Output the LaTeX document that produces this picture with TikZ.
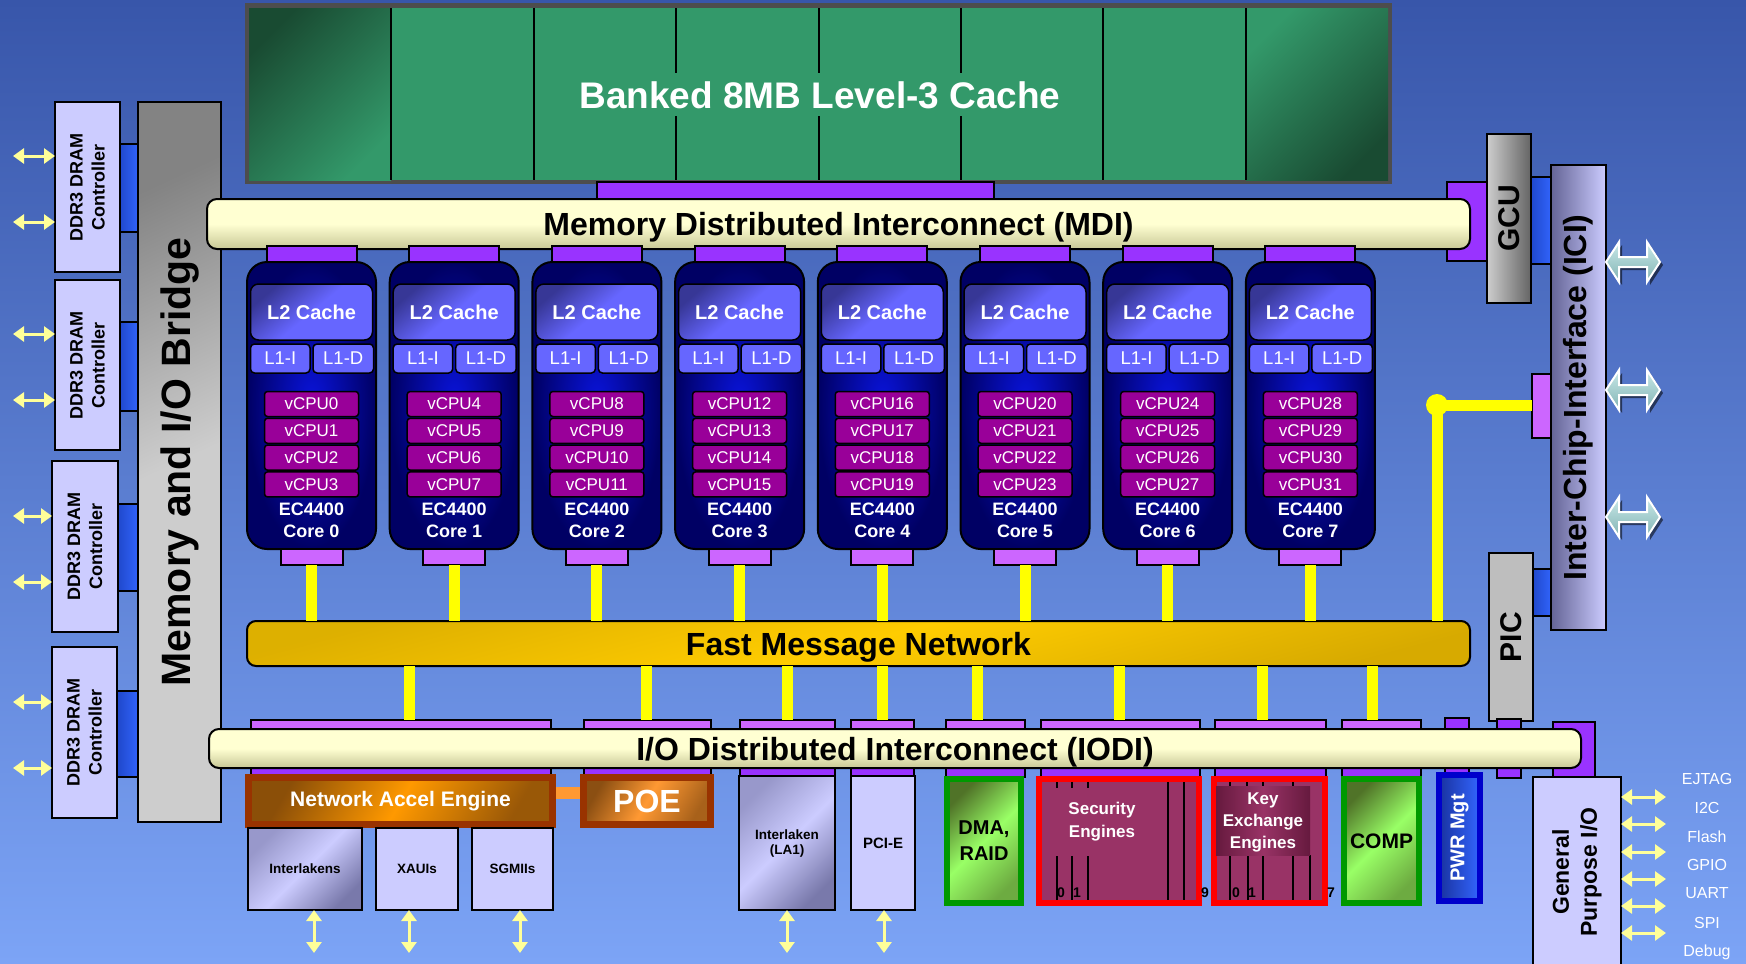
\documentclass[tikz,border=0pt]{standalone}
\usepackage{fontspec}
\setmainfont{Liberation Sans}
\usetikzlibrary{arrows.meta,calc}
\definecolor{bgtop}{RGB}{56,86,170}
\definecolor{bgbot}{RGB}{124,164,246}
\definecolor{cLav}{RGB}{204,204,255}
\definecolor{cLavD}{RGB}{100,100,150}
\definecolor{cL3}{RGB}{51,153,106}
\definecolor{cL3d}{RGB}{25,75,50}
\definecolor{cFrame}{RGB}{77,77,77}
\definecolor{cPurD}{RGB}{153,51,255}
\definecolor{cPurL}{RGB}{204,102,255}
\definecolor{cBlue}{RGB}{51,102,255}
\definecolor{cBlueD}{RGB}{30,70,200}
\definecolor{cCream}{RGB}{255,255,210}
\definecolor{cCreamD}{RGB}{200,200,150}
\definecolor{cGold}{RGB}{255,204,0}
\definecolor{cGoldD}{RGB}{150,115,0}
\definecolor{cNavy}{RGB}{0,0,100}
\definecolor{cCoreMid}{RGB}{10,20,220}
\definecolor{cLtwo}{RGB}{102,102,255}
\definecolor{cLtwoD}{RGB}{55,55,150}
\definecolor{cVcpu}{RGB}{153,0,153}
\definecolor{cYel}{RGB}{255,255,0}
\definecolor{cYarr}{RGB}{255,255,153}
\definecolor{cOrange}{RGB}{255,153,0}
\definecolor{cOrangeL}{RGB}{255,153,51}
\definecolor{cBrown}{RGB}{153,51,0}
\definecolor{cBrownD}{RGB}{110,60,10}
\definecolor{cGreenB}{RGB}{0,153,0}
\definecolor{cGreenL}{RGB}{153,255,102}
\definecolor{cGreenD}{RGB}{80,115,40}
\definecolor{cMaroon}{RGB}{153,51,102}
\definecolor{cMaroonD}{RGB}{80,15,45}
\definecolor{cRed}{RGB}{255,0,0}
\definecolor{cPwrB}{RGB}{0,0,204}
\definecolor{cPwrD}{RGB}{25,50,160}
\definecolor{cGrayL}{RGB}{205,205,205}
\definecolor{cGrayM}{RGB}{190,190,190}
\definecolor{cGrayD}{RGB}{100,100,100}
\definecolor{cTeal}{RGB}{200,232,232}
\definecolor{cTealD}{RGB}{130,180,180}
\newcommand\fsz[2]{\fontsize{#1}{#2}\selectfont}
\newcommand\rbox[7]{\node[#6,minimum width={((#4)-(#2))*1pt},minimum height={((#5)-(#3))*1pt}] (#1) at ({((#2)+(#4))/2},{((#3)+(#5))/2}) {#7};}
\newcommand\iciarrow[3]{%
 \coordinate (#1) at (#2,#3);
 \fill[black,opacity=0.55] ([shift={(3,3)}]#1) ++(-27,0) -- ++(13,-20) -- ++(0,15) -- ++(28,0) -- ++(0,-15) -- ++(13,20) -- ++(-13,20) -- ++(0,-15) -- ++(-28,0) -- ++(0,15) -- cycle;
 \draw[white,line width=2pt,top color=cTeal,bottom color=cTealD] (#1) ++(-27,0) -- ++(13,-20) -- ++(0,15) -- ++(28,0) -- ++(0,-15) -- ++(13,20) -- ++(-13,20) -- ++(0,-15) -- ++(-28,0) -- ++(0,15) -- cycle;}
\begin{document}
\begin{tikzpicture}[x=1pt,y=-1pt,
  every node/.style={inner sep=0pt,outer sep=0pt},
  bd/.style={draw=black,line width=2pt},
  lavbox/.style={bd,fill=cLav},
  lavgrad/.style={bd,top color=cLavD!50!cLav,bottom color=cLavD!80!cLav,middle color=cLav,shading angle=45},
  conbox/.style={bd,left color=cBlueD,right color=cBlue},
  purdbox/.style={bd,fill=cPurD},
  purlbox/.style={bd,fill=cPurL},
  creambar/.style={bd,rounded corners=10pt,top color=cCream,bottom color=cCreamD,middle color=cCream,text depth=0pt},
  goldbar/.style={bd,rounded corners=9pt,top color=cGold!68!cGoldD,bottom color=cGold!62!cGoldD,middle color=cGold,shading angle=15,text depth=0pt},
  corebox/.style={bd,rounded corners=20pt,inner color=cCoreMid,outer color=cNavy},
  ltwobox/.style={bd,line width=1.5pt,rounded corners=8pt,top color=cLtwoD,bottom color=cLtwo,middle color=cLtwo,shading angle=40,text=white,font=\bfseries\fsz{20}{22}},
  lonebox/.style={bd,line width=1.5pt,rounded corners=4pt,fill=cLtwo,text=white,font=\fsz{18.5}{20}},
  vbox/.style={bd,line width=1.5pt,rounded corners=3pt,fill=cVcpu,text=white,font=\fsz{17}{18}},
  coretext/.style={text=white,font=\bfseries\fsz{18}{20}},
  yline/.style={draw=cYel,line width=11pt},
  yarr/.style={draw=cYarr,line width=3pt,{Triangle[length=11pt,width=15pt]}-{Triangle[length=11pt,width=15pt]}},
  greenbox/.style={draw=cGreenB,line width=6pt,top color=cGreenD,bottom color=cGreenD!60!cGreenL,middle color=cGreenL,shading angle=45,font=\bfseries\fsz{21}{24},align=center},
  redbox/.style={draw=cRed,line width=6pt,fill=cMaroon},
  smalllab/.style={font=\bfseries\fsz{13.5}{15},align=center},
  numlab/.style={font=\bfseries\fsz{14}{15}},
  iolab/.style={text=white,font=\fsz{16}{18}}
]
\useasboundingbox (0,0) rectangle (1746,964);
\shade[top color=bgtop,bottom color=bgbot] (0,0) rectangle (1746,964);

% ---------- left: DDR controllers and bridge ----------
\rbox{bc1}{118}{144}{140}{232}{conbox}{}
\rbox{bc2}{118}{322}{140}{411}{conbox}{}
\rbox{bc3}{116}{504}{140}{591}{conbox}{}
\rbox{bc4}{116}{691}{140}{777}{conbox}{}
\rbox{D1}{55}{102}{120}{272}{lavbox}{}
\rbox{D2}{55}{280}{120}{450}{lavbox}{}
\rbox{D3}{52}{461}{118}{632}{lavbox}{}
\rbox{D4}{52}{647}{117}{818}{lavbox}{}
\foreach \d in {1,...,4}{\node[rotate=90,font=\bfseries\fsz{18}{22},align=center] (tD\d) at (D\d.center) {DDR3 DRAM\\Controller};}
\foreach \y [count=\n] in {156,222,334,400,516,582,702,768}{\coordinate (lA\n) at (13,\y);}
\foreach \n/\d in {1/1,2/1,3/2,4/2,5/3,6/3,7/4,8/4}{\draw[yarr] (lA\n) -- (lA\n -| D\d.west);}
\rbox{BR}{138}{102}{221}{822}{bd,top color=cGrayD!70!cGrayL,bottom color=cGrayL,middle color=cGrayL,shading angle=25}{}
\node[rotate=90,font=\bfseries\fsz{41}{44}] (tBR) at (BR.center) {Memory and I/O Bridge};

% ---------- L3 cache ----------
\rbox{L3f}{245}{3}{1392}{184}{fill=cFrame}{}
\rbox{L3}{249}{8}{1388}{180}{fill=cL3}{}
\shade[top color=cL3d,bottom color=cL3,shading angle=45] (249,8) rectangle (391,180);
\shade[top color=cL3,bottom color=cL3d,shading angle=45] (1246,8) rectangle (1388,180);
\foreach \x in {391,534,1103,1246}{\draw[line width=2pt] (\x,8) -- (\x,180);}
\foreach \x in {676,819,961}{\draw[line width=2pt] (\x,8) -- (\x,73) (\x,116) -- (\x,180);}
\node[text=white,font=\bfseries\fsz{37}{40}] (tL3) at (820,95) {Banked 8MB Level-3 Cache};
\rbox{pL3}{597}{182}{994}{201}{purdbox}{}

% ---------- GCU / ICI ----------
\rbox{pG}{1447}{182}{1487}{261}{purdbox}{}
\rbox{MDI}{207}{199}{1470}{249}{creambar,font=\bfseries\fsz{32}{34}}{Memory Distributed Interconnect (MDI)}
\rbox{bG}{1529}{177}{1553}{264}{conbox}{}
\rbox{GCU}{1487}{134}{1531}{303}{bd,left color=cGrayL,right color=cGrayD}{}
\node[rotate=90,font=\bfseries\fsz{30}{32}] (tGCU) at (GCU.center) {GCU};
\rbox{bP}{1531}{569}{1553}{616}{conbox}{}
\rbox{PIC}{1489}{553}{1533}{721}{bd,fill=cGrayM}{}
\node[rotate=90,font=\bfseries\fsz{30}{32}] (tPIC) at (PIC.center) {PIC};
\rbox{ICIp}{1532}{374}{1553}{438}{purlbox}{}
\rbox{ICI}{1551}{165}{1606}{630}{bd,left color=cLavD,right color=cLav}{}
\node[rotate=90,font=\bfseries\fsz{32}{34}] (tICI) at (ICI.center) {Inter-Chip-Interface (ICI)};
\iciarrow{ia1}{1633}{262}
\iciarrow{ia2}{1633}{390}
\iciarrow{ia3}{1633}{517}

% ---------- cores ----------
\rbox{FMN}{247}{621}{1470}{666}{goldbar,font=\bfseries\fsz{32}{34}}{Fast Message Network}
\foreach \k in {0,...,7}{
  \pgfmathsetmacro\cx{311.5+142.7*\k}
  \rbox{ct\k}{\cx-45}{246}{\cx+45}{263}{purdbox}{}
  \rbox{core\k}{\cx-64.5}{262}{\cx+64.5}{549}{corebox}{}
  \rbox{ltwo\k}{\cx-61}{284}{\cx+61}{340}{ltwobox}{L2 Cache}
  \rbox{lonei\k}{\cx-61}{344}{\cx-1.5}{373}{lonebox}{L1-I}
  \rbox{loned\k}{\cx+1.5}{344}{\cx+62}{373}{lonebox}{L1-D}
  \foreach \i in {0,...,3}{
    \pgfmathtruncatemacro\vn{4*\k+\i}
    \pgfmathsetmacro\yy{391.5+26.8*\i}
    \rbox{v\vn}{\cx-47}{\yy}{\cx+47}{\yy+25}{vbox}{vCPU\vn}
  }
  \node[coretext] (ec\k) at (\cx,509) {EC4400};
  \node[coretext] (cn\k) at (\cx,531) {Core \k};
  \rbox{cb\k}{\cx-31}{549}{\cx+31}{565}{purlbox}{}
  \draw[yline] (cb\k.south) -- (cb\k.south |- FMN.north);
}
\node[circle,fill=cYel,minimum size=22pt] (dot) at (1437,405) {};
\draw[yline] (dot.center) -- (dot.center -| ICIp.west);
\draw[yline] (dot.center) -- (dot.center |- FMN.north);

% ---------- IODI ----------
\foreach \a/\b [count=\n] in {251/551,584/711,740/835,851/914,946/1025,1041/1200,1215/1326,1342/1421}{
  \rbox{iu\n}{\a}{720}{\b}{731}{purlbox}{}
  \rbox{il\n}{\a}{766}{\b}{777}{purdbox}{}
}
\foreach \x [count=\n] in {409,646,787,882,977,1119,1262,1372}{\draw[yline] (\x,0 |- FMN.south) -- (\x,0 |- iu\n.north);}
\rbox{pwu}{1445}{718}{1469}{731}{purdbox}{}
\rbox{pwl}{1445}{766}{1469}{775}{purdbox}{}
\rbox{picu}{1497}{719}{1521}{731}{purdbox}{}
\rbox{picl}{1497}{766}{1521}{778}{purdbox}{}
\rbox{gpp}{1553}{722}{1595}{779}{purdbox}{}
\rbox{IODI}{209}{729}{1581}{768}{creambar,font=\bfseries\fsz{32}{34}}{I/O Distributed Interconnect (IODI)}

% ---------- bottom blocks ----------
\rbox{np}{550}{787}{582}{799}{fill=cOrangeL}{}
\rbox{NAE}{248.5}{777.5}{552.5}{824.5}{draw=cBrown,line width=7pt,top color=cBrownD!80!cOrange,bottom color=cBrownD!70!cOrange,middle color=cOrange,shading angle=60,text=white,font=\bfseries\fsz{21}{23}}{Network Accel Engine}
\rbox{POE}{583.5}{777.5}{710.5}{824.5}{draw=cBrown,line width=7pt,top color=cBrownD!80!cOrangeL,bottom color=cBrownD!60!cOrangeL,middle color=cOrangeL,shading angle=60,text=white,font=\bfseries\fsz{32}{34}}{POE}
\rbox{IL}{248}{828}{362}{910}{lavgrad,smalllab}{Interlakens}
\rbox{XA}{376}{828}{458}{910}{lavbox,smalllab}{XAUIs}
\rbox{SG}{472}{828}{553}{910}{lavbox,smalllab}{SGMIIs}
\rbox{LA}{739}{776}{835}{910}{lavgrad,smalllab}{Interlaken\\(LA1)}
\rbox{PCI}{851}{776}{915}{910}{lavbox,font=\bfseries\fsz{15}{17}}{PCI-E}
\foreach \x/\b [count=\n] in {314/IL,409/XA,520/SG,787/LA,884/PCI}{
  \coordinate (bA\n) at (\x,953);
  \draw[yarr] (bA\n |- \b.south) -- (bA\n);
}
\rbox{DMA}{947}{779}{1021}{903}{greenbox,font=\bfseries\fsz{20}{26}}{DMA,\\RAID}
\rbox{SEC}{1039}{779}{1199}{903}{redbox}{}
\foreach \x in {1057,1072,1088}{\draw[line width=2.5pt] (\x,782) -- (\x,788) (\x,856) -- (\x,900);}
\foreach \x in {1168,1184}{\draw[line width=2.5pt] (\x,782) -- (\x,900);}
\node[numlab] (s0) at (1061,893) {0};
\node[numlab] (s1) at (1077,893) {1};
\node[numlab] (s9) at (1205,893) {9};
\node[text=white,font=\bfseries\fsz{17}{23},align=center] (tSEC) at (1102,822) {Security\\Engines};
\rbox{KEY}{1214}{779}{1325}{903}{redbox}{}
\foreach \x in {1230,1247,1263,1293}{\draw[line width=2.5pt] (\x,782) -- (\x,788);}
\foreach \x in {1230,1248,1263,1293,1310}{\draw[line width=2.5pt] (\x,855) -- (\x,900);}
\rbox{KEYi}{1216}{786}{1310}{855}{left color=cMaroonD!70!cMaroon,right color=cMaroonD!70!cMaroon,middle color=cMaroon}{}
\node[text=white,font=\bfseries\fsz{17}{22},align=center] (tKEY) at (1263,822) {Key\\Exchange\\Engines};
\node[numlab] (k0) at (1236,893) {0};
\node[numlab] (k1) at (1252,893) {1};
\node[numlab] (k7) at (1331,893) {7};
\rbox{COMP}{1344}{779}{1419}{903}{greenbox}{COMP}
\rbox{PWR}{1439}{775}{1480}{901}{draw=cPwrB,line width=6pt,left color=cPwrD,right color=cBlue}{}
\node[rotate=90,text=white,font=\bfseries\fsz{20}{22}] (tPWR) at (PWR.center) {PWR Mgt};
\rbox{GPIO}{1533}{777}{1621}{968}{lavbox}{}
\node[rotate=90,font=\bfseries\fsz{23}{28},align=center] (tGPIO) at (1577,872) {General\\Purpose I/O};
\foreach \y [count=\n] in {797,824,852,879,906,933}{
  \coordinate (gA\n) at (1666,\y);
  \draw[yarr] (gA\n -| GPIO.east) -- (gA\n);
}
\foreach \t/\y [count=\n] in {EJTAG/779,I2C/808,Flash/837,GPIO/865,UART/893,SPI/923,Debug/952}{
  \node[iolab] (io\n) at (1707,\y) {\t};
}
\end{tikzpicture}
\end{document}
